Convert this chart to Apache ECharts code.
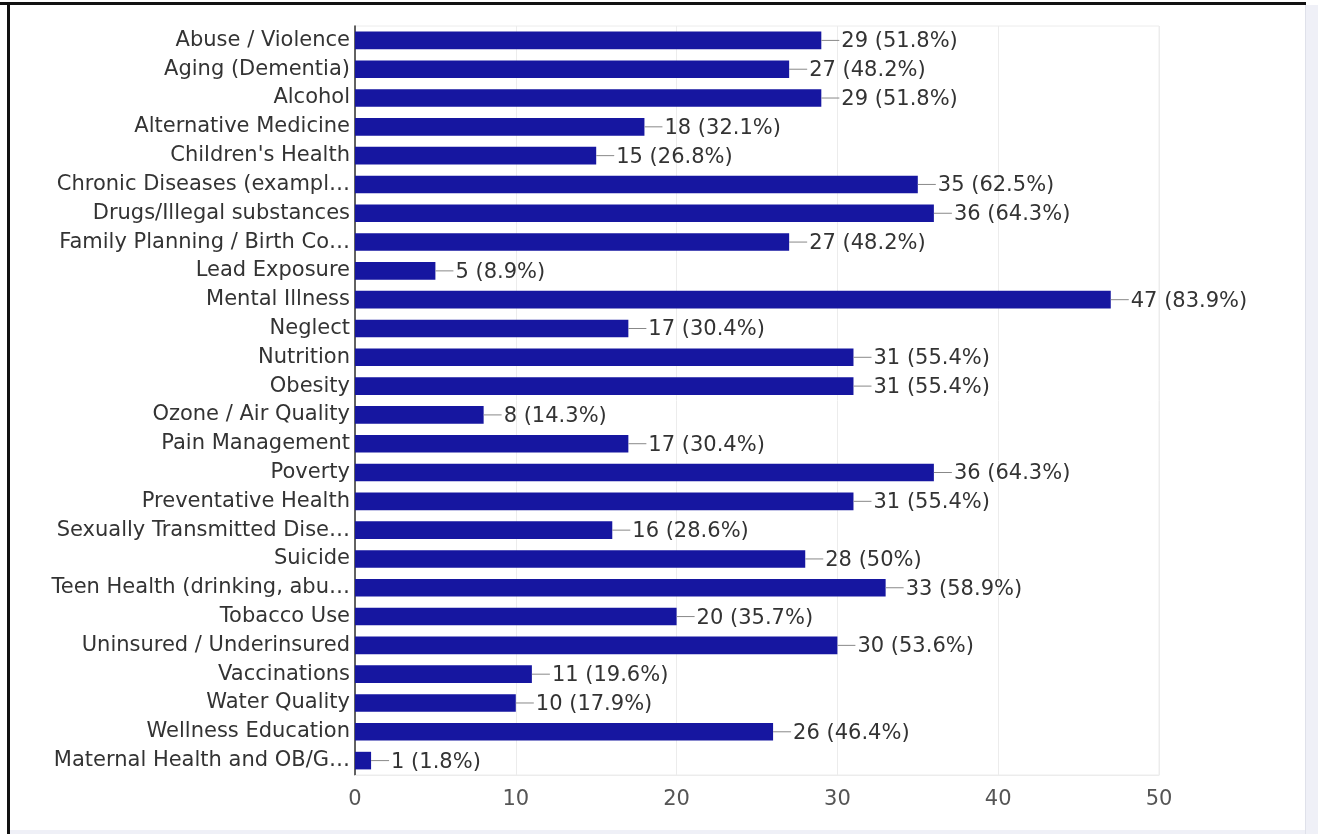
<!DOCTYPE html>
<html>
<head>
<meta charset="utf-8">
<script src="https://cdn.jsdelivr.net/npm/echarts@6/dist/echarts.min.js"></script>
<style>
html,body{margin:0;padding:0;background:#fff;width:1318px;height:834px;overflow:hidden;}
#chart{position:absolute;left:0;top:0;width:1318px;height:834px;}
.d{position:absolute;}
</style>
</head>
<body>
<div id="chart"></div>
<div class="d" style="left:0;top:2px;width:1306px;height:3px;background:#111;"></div>
<div class="d" style="left:7px;top:2px;width:3px;height:832px;background:#111;"></div>
<div class="d" style="left:1305px;top:5px;width:1px;height:829px;background:#dfe1ea;"></div>
<div class="d" style="left:1306px;top:5px;width:12px;height:829px;background:#eff0f7;"></div>
<div class="d" style="left:10px;top:830px;width:1295px;height:4px;background:#eff0f7;"></div>
<script>
var categories = [
  "Abuse / Violence",
  "Aging (Dementia)",
  "Alcohol",
  "Alternative Medicine",
  "Children's Health",
  "Chronic Diseases (exampl\u2026",
  "Drugs/Illegal substances",
  "Family Planning / Birth Co\u2026",
  "Lead Exposure",
  "Mental Illness",
  "Neglect",
  "Nutrition",
  "Obesity",
  "Ozone / Air Quality",
  "Pain Management",
  "Poverty",
  "Preventative Health",
  "Sexually Transmitted Dise\u2026",
  "Suicide",
  "Teen Health (drinking, abu\u2026",
  "Tobacco Use",
  "Uninsured / Underinsured",
  "Vaccinations",
  "Water Quality",
  "Wellness Education",
  "Maternal Health and OB/G\u2026"
];
var counts = [29, 27, 29, 18, 15, 35, 36, 27, 5, 47, 17, 31, 31, 8, 17, 36, 31, 16, 28, 33, 20, 30, 11, 10, 26, 1];
var percents = ["51.8%", "48.2%", "51.8%", "32.1%", "26.8%", "62.5%", "64.3%", "48.2%", "8.9%", "83.9%", "30.4%", "55.4%", "55.4%", "14.3%", "30.4%", "64.3%", "55.4%", "28.6%", "50%", "58.9%", "35.7%", "53.6%", "19.6%", "17.9%", "46.4%", "1.8%"];
var xTicks = [0, 10, 20, 30, 40, 50];

var FONT = "DejaVu Sans";
var FS = 21;
var chart = echarts.init(document.getElementById('chart'), null, {renderer: 'canvas'});
chart.setOption({
  animation: false,
  backgroundColor: 'transparent',
  grid: {left: 355, right: 159, top: 26, bottom: 59, show: true, borderColor: '#ececec', borderWidth: 1, containLabel: false},
  xAxis: {
    type: 'value',
    min: xTicks[0],
    max: xTicks[xTicks.length - 1],
    interval: 10,
    axisLine: {show: true, lineStyle: {color: '#ececec', width: 1}},
    axisTick: {show: false},
    splitLine: {show: true, lineStyle: {color: '#ececec', width: 1}},
    axisLabel: {color: '#555', fontFamily: FONT, fontSize: FS, margin: 14}
  },
  yAxis: {
    type: 'category',
    inverse: true,
    data: categories,
    axisLine: {show: true, lineStyle: {color: '#333', width: 1.5}},
    axisTick: {show: false},
    splitLine: {show: false},
    axisLabel: {color: '#333', fontFamily: FONT, fontSize: FS, margin: 5, interval: 0, padding: [5, 0, 0, 0]}
  },
  series: [{
    type: 'bar',
    data: counts,
    barWidth: 17.6,
    itemStyle: {color: '#1616a0'},
    label: {
      show: true,
      position: 'right',
      distance: 0,
      formatter: function (p) {
        return '{ln|}{v|' + counts[p.dataIndex] + ' (' + percents[p.dataIndex] + ')}';
      },
      rich: {
        ln: {width: 18, height: 1, backgroundColor: '#888', verticalAlign: 'middle'},
        v: {color: '#333', fontFamily: FONT, fontSize: FS, padding: [3, 0, 0, 2], verticalAlign: 'middle'}
      }
    }
  }]
});
</script>
</body>
</html>
